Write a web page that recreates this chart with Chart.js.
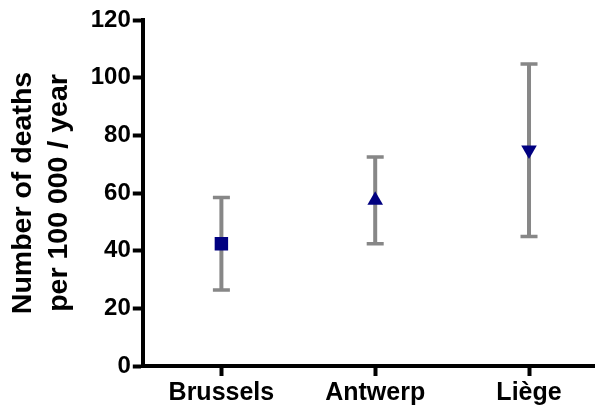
<!DOCTYPE html>
<html>
<head>
<meta charset="utf-8">
<script src="https://cdn.jsdelivr.net/npm/chart.js@4"></script>
<style>
  html, body { margin: 0; padding: 0; background: #fff; }
  #wrap { width: 595px; height: 408px; }
</style>
</head>
<body>
<div id="wrap"><canvas id="c" width="595" height="408"></canvas></div>
<script>
const categories = ['Brussels', 'Antwerp', 'Liège'];
const means = [42.4, 57.5, 74.9];
const lower = [26.4, 42.4, 44.9];
const upper = [58.4, 72.5, 104.7];
const yTicks = [0, 20, 40, 60, 80, 100, 120];
const yTitle = ['Number of deaths', 'per 100 000 / year'];

const FONT = 'Arial, "Liberation Sans", Helvetica, sans-serif';

const errorBars = {
  id: 'errorBars',
  beforeDatasetsDraw(chart) {
    const ctx = chart.ctx;
    const xs = chart.scales.x, ys = chart.scales.y;
    ctx.save();
    ctx.strokeStyle = '#878787';
    ctx.lineCap = 'butt';
    categories.forEach((c, i) => {
      const x = xs.getPixelForValue(i + 1);
      const yt = ys.getPixelForValue(upper[i]);
      const yb = ys.getPixelForValue(lower[i]);
      ctx.lineWidth = 4;
      ctx.beginPath();
      ctx.moveTo(x, yt);
      ctx.lineTo(x, yb);
      ctx.stroke();
      ctx.lineWidth = 3.5;
      ctx.beginPath();
      ctx.moveTo(x - 8.5, yt);
      ctx.lineTo(x + 8.5, yt);
      ctx.moveTo(x - 8.5, yb);
      ctx.lineTo(x + 8.5, yb);
      ctx.stroke();
    });
    ctx.restore();
  }
};

new Chart(document.getElementById('c'), {
  type: 'scatter',
  data: {
    datasets: [{
      data: means.map((m, i) => ({ x: i + 1, y: m })),
      backgroundColor: '#000080',
      borderColor: '#000080',
      borderWidth: 0,
      pointStyle: ['rect', 'triangle', 'triangle'],
      rotation: [0, 0, 180],
      pointRadius: [9.5, 9, 9],
      showLine: false
    }]
  },
  options: {
    responsive: false,
    animation: false,
    events: [],
    layout: { autoPadding: false, padding: { left: 5.5, right: 0, top: 20, bottom: 0 } },
    plugins: { legend: { display: false }, tooltip: { enabled: false } },
    scales: {
      x: {
        type: 'linear',
        min: 0.489,
        max: 3.429,
        afterBuildTicks(scale) {
          scale.ticks = categories.map((c, i) => ({ value: i + 1 }));
        },
        afterFit(scale) {
          scale.paddingLeft = 0;
          scale.paddingRight = 0;
          scale.height = 42;
        },
        ticks: {
          color: '#000',
          font: { family: FONT, size: 25, weight: 'bold', lineHeight: 1.0 },
          padding: 5,
          maxRotation: 0,
          autoSkip: false,
          callback: (v) => categories[v - 1]
        },
        grid: {
          display: true,
          drawOnChartArea: false,
          drawTicks: true,
          tickLength: 10,
          tickWidth: 4,
          tickColor: '#000'
        },
        border: { display: true, color: '#000', width: 4 }
      },
      y: {
        min: 0,
        max: 120,
        afterBuildTicks(scale) {
          scale.ticks = yTicks.map(v => ({ value: v }));
        },
        ticks: {
          color: '#000',
          font: { family: FONT, size: 24, weight: 'bold', lineHeight: 1.2 },
          padding: 2
        },
        grid: {
          display: true,
          drawOnChartArea: false,
          drawTicks: true,
          tickLength: 10,
          tickWidth: 4,
          tickColor: '#000'
        },
        border: { display: true, color: '#000', width: 4 },
        title: {
          display: true,
          text: yTitle,
          color: '#000',
          font: { family: FONT, size: 28.5, weight: 'bold', lineHeight: 1.25 },
          padding: { top: 0, bottom: 12 }
        }
      }
    }
  },
  plugins: [errorBars]
});
</script>
</body>
</html>
